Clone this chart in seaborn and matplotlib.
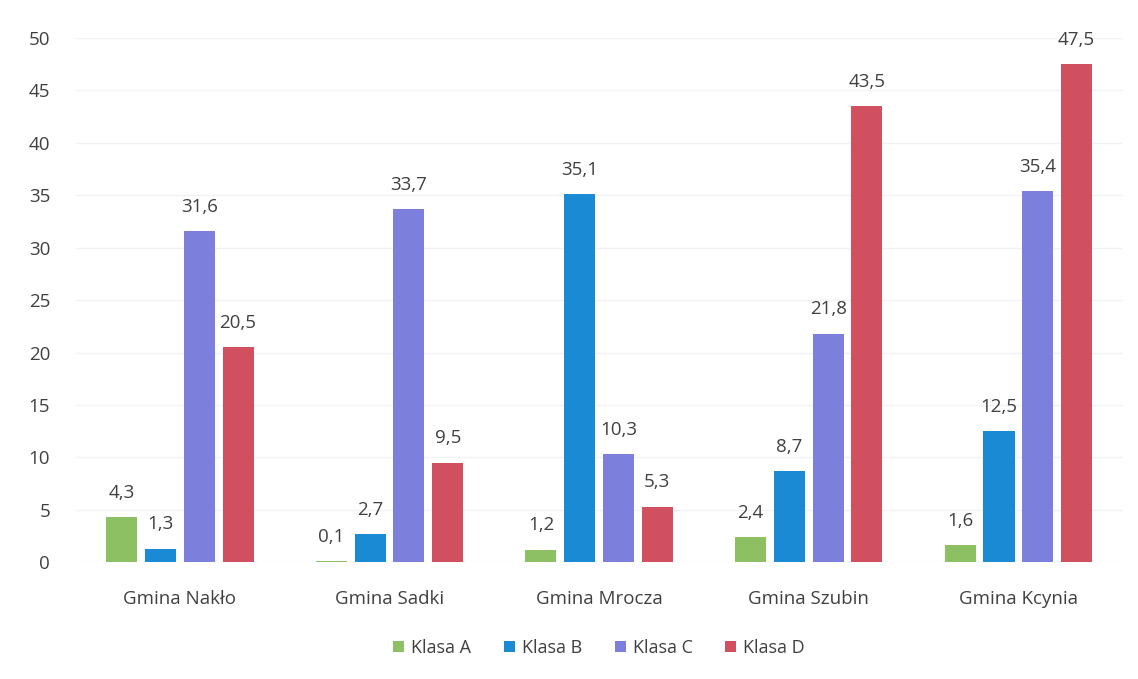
import pandas as pd
import matplotlib.pyplot as plt
import seaborn as sns

gminy = ["Gmina Nakło", "Gmina Sadki", "Gmina Mrocza", "Gmina Szubin", "Gmina Kcynia"]
klasy = ["Klasa A", "Klasa B", "Klasa C", "Klasa D"]
klasa_a = [4.3, 0.1, 1.2, 2.4, 1.6]
klasa_b = [1.3, 2.7, 35.1, 8.7, 12.5]
klasa_c = [31.6, 33.7, 10.3, 21.8, 35.4]
klasa_d = [20.5, 9.5, 5.3, 43.5, 47.5]
kolory = ["#8cc063", "#1a8ad4", "#7d7fdc", "#d05060"]

rows = []
for k, vals in zip(klasy, [klasa_a, klasa_b, klasa_c, klasa_d]):
    for g, v in zip(gminy, vals):
        rows.append({"Gmina": g, "Klasa": k, "Wartosc": v})
df = pd.DataFrame(rows)

sns.set_style("white")
plt.rcParams["font.family"] = ["Open Sans", "DejaVu Sans"]

fig = plt.figure(figsize=(11.38, 6.79), dpi=100)
ax = fig.add_axes([0.066, 0.172, 0.921, 0.772])
sns.barplot(data=df, x="Gmina", y="Wartosc", hue="Klasa", palette=kolory,
            saturation=1, width=0.74, gap=0.2, linewidth=0, ax=ax, legend=True)

for cont in ax.containers:
    ax.bar_label(cont, labels=[f"{v:.1f}".replace(".", ",") for v in cont.datavalues],
                 padding=11, fontsize=13.5, color="#404040")

ax.set_ylim(0, 50)
ax.set_yticks(range(0, 51, 5))
ax.set_xlabel("")
ax.set_ylabel("")
ax.grid(axis="y", color="#f2f2f2", linewidth=1)
ax.set_axisbelow(True)
for s in ax.spines.values():
    s.set_visible(False)
ax.tick_params(axis="both", length=0, labelsize=13.5, colors="#404040")
ax.tick_params(axis="x", pad=20)
ax.tick_params(axis="y", pad=18)

ax.legend(loc="upper center", bbox_to_anchor=(0.5, -0.115), ncol=4, frameon=False,
          fontsize=13, handlelength=0.6, handleheight=0.6, columnspacing=1.8,
          handletextpad=0.4, labelcolor="#404040")

fig.savefig("out.png", dpi=100)
